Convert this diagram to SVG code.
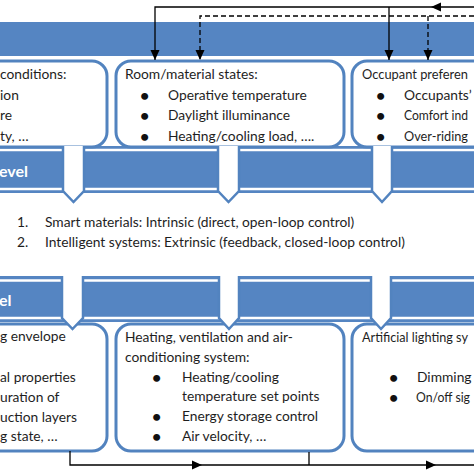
<svg xmlns="http://www.w3.org/2000/svg" width="474" height="474" viewBox="0 0 474 474">
<style>
.band{fill:#5585c2}
.hl{stroke:#ffffff;stroke-width:2.5}
.box{fill:#ffffff;stroke:#5283bf;stroke-width:3}
.stemfill{fill:#ffffff}
.stemline{fill:none;stroke:#5283bf;stroke-width:2.5;stroke-linejoin:miter}
.t{font-family:Lato,"Liberation Sans",sans-serif;font-size:13.8px;fill:#1e1e1e}
.b{font-family:Lato,"Liberation Sans",sans-serif;font-size:16px;font-weight:bold;fill:#111111}
.bt{font-family:Lato,"Liberation Sans",sans-serif;font-size:16px;font-weight:bold;fill:#ffffff}
.ln{fill:none;stroke:#000000;stroke-width:1.3}
.dash{stroke-dasharray:5 3}
</style>
<defs>
<marker id="ah" viewBox="0 0 10 10" refX="10" refY="5" markerWidth="10" markerHeight="10" markerUnits="userSpaceOnUse" orient="auto">
<path d="M0,0.5 L10,5 L0,9.5 z" fill="#000000"/>
</marker>
</defs>
<rect width="474" height="474" fill="#ffffff"/>

<g id="band-top">
<rect class="band" x="0" y="22" width="474" height="34"/>
</g>

<g id="band-middle">
<rect class="band" x="0" y="146" width="474" height="47"/>
<line class="hl" x1="0" y1="150" x2="474" y2="150"/>
<line class="hl" x1="0" y1="189" x2="474" y2="189"/>
<text class="bt" x="-1" y="177">evel</text>
</g>

<g id="band-bottom">
<rect class="band" x="0" y="276" width="474" height="46"/>
<line class="hl" x1="0" y1="280.5" x2="474" y2="280.5"/>
<line class="hl" x1="0" y1="318" x2="474" y2="318"/>
<text class="bt" x="-1" y="306">el</text>
</g>

<g id="box-outdoor">
<rect class="box" x="-30" y="61" width="137" height="86" rx="15"/>
<text class="t" x="0" y="79">conditions:</text>
<text class="t" x="0" y="100">ion</text>
<text class="t" x="0" y="120">re</text>
<text class="t" x="0" y="141">ty, …</text>
</g>

<g id="box-room">
<rect class="box" x="116" y="61" width="228" height="86" rx="15"/>
<text class="t" x="125" y="79">Room/material states:</text>
<text class="b" x="140" y="101">•</text>
<text class="t" x="168" y="100">Operative temperature</text>
<text class="b" x="140" y="121">•</text>
<text class="t" x="168" y="120">Daylight illuminance</text>
<text class="b" x="140" y="142">•</text>
<text class="t" x="168" y="141">Heating/cooling load, ….</text>
</g>

<g id="box-occupant">
<rect class="box" x="352" y="61" width="150" height="86" rx="15"/>
<text class="t" x="362" y="79" textLength="106" lengthAdjust="spacingAndGlyphs">Occupant preferen</text>
<text class="b" x="376" y="101">•</text>
<text class="t" x="404" y="100">Occupants’</text>
<text class="b" x="376" y="121">•</text>
<text class="t" x="404" y="120" textLength="64" lengthAdjust="spacingAndGlyphs">Comfort ind</text>
<text class="b" x="376" y="142">•</text>
<text class="t" x="404" y="141" textLength="64" lengthAdjust="spacingAndGlyphs">Over-riding</text>
</g>

<g id="stems-middle">
<polygon class="stemfill" points="63,146 63,191 73.5,202 84,191 84,146"/>
<path class="stemline" d="M63,146 V191 L73.5,202 L84,191 V146"/>
<polygon class="stemfill" points="218,146 218,191 228.5,202 239,191 239,146"/>
<path class="stemline" d="M218,146 V191 L228.5,202 L239,191 V146"/>
<polygon class="stemfill" points="372,146 372,191 382,202 392,191 392,146"/>
<path class="stemline" d="M372,146 V191 L382,202 L392,191 V146"/>
</g>

<g id="control-types">
<text class="t" x="17" y="226.5">1.</text>
<text class="t" x="45" y="226.5">Smart materials: Intrinsic (direct, open-loop control)</text>
<text class="t" x="17" y="246.5">2.</text>
<text class="t" x="45" y="246.5">Intelligent systems: Extrinsic (feedback, closed-loop control)</text>
</g>

<g id="box-envelope">
<rect class="box" x="-30" y="324" width="137" height="127" rx="15"/>
<text class="t" x="0" y="341">g envelope</text>
<text class="t" x="0" y="382">al properties</text>
<text class="t" x="0" y="402">uration of</text>
<text class="t" x="0" y="422">uction layers</text>
<text class="t" x="0" y="441">g state, …</text>
</g>

<g id="box-hvac">
<rect class="box" x="116" y="324" width="228" height="127" rx="15"/>
<text class="t" x="125" y="342">Heating, ventilation and air-</text>
<text class="t" x="125" y="362">conditioning system:</text>
<text class="b" x="152" y="383">•</text>
<text class="t" x="182" y="382">Heating/cooling</text>
<text class="t" x="182" y="401">temperature set points</text>
<text class="b" x="152" y="422">•</text>
<text class="t" x="182" y="421">Energy storage control</text>
<text class="b" x="152" y="442">•</text>
<text class="t" x="182" y="441">Air velocity, …</text>
</g>

<g id="box-lighting">
<rect class="box" x="352" y="324" width="150" height="127" rx="15"/>
<text class="t" x="362" y="342" textLength="106" lengthAdjust="spacingAndGlyphs">Artificial lighting sy</text>
<text class="b" x="389" y="383">•</text>
<text class="t" x="417" y="382">Dimming</text>
<text class="b" x="389" y="403">•</text>
<text class="t" x="416" y="402" textLength="54" lengthAdjust="spacingAndGlyphs">On/off sig</text>
</g>

<g id="stems-bottom">
<polygon class="stemfill" points="62,275 62,318 72.5,329 83,318 83,275"/>
<path class="stemline" d="M62,276 V318 L72.5,329 L83,318 V276"/>
<polygon class="stemfill" points="219,275 219,318 229,329 239,318 239,275"/>
<path class="stemline" d="M219,276 V318 L229,329 L239,318 V276"/>
<polygon class="stemfill" points="371,275 371,318 381,329 391,318 391,275"/>
<path class="stemline" d="M371,276 V318 L381,329 L391,318 V276"/>
</g>

<g id="connectors">
<path class="ln" d="M474,7 H431" marker-end="url(#ah)"/>
<path class="ln" d="M431,7 H155 V60" marker-end="url(#ah)"/>
<path class="ln" d="M389,7 V60" marker-end="url(#ah)"/>
<path class="ln dash" d="M474,16 H200 V60" marker-end="url(#ah)"/>
<path class="ln dash" d="M428,16 V60" marker-end="url(#ah)"/>
<path class="ln" d="M70,451 V465 H202" marker-end="url(#ah)"/>
<path class="ln" d="M202,465 H436" marker-end="url(#ah)"/>
<path class="ln" d="M436,465 H474"/>
<path class="ln" d="M309,452 V465"/>
</g>
</svg>
